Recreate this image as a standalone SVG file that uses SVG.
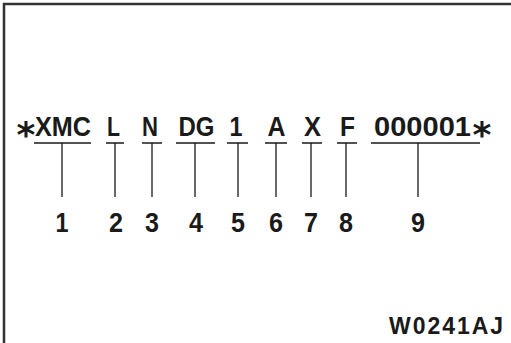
<svg xmlns="http://www.w3.org/2000/svg" width="511" height="343" viewBox="0 0 511 343">
<style>
.t{font-family:"Liberation Sans",Arial,sans-serif;font-weight:bold;font-size:27px;fill:#1a1a1a}
.m{text-anchor:middle}
.s{font-family:"DejaVu Sans",sans-serif;font-weight:bold;font-size:36px;fill:#1a1a1a;text-anchor:middle}
.n{font-family:"Liberation Sans",Arial,sans-serif;font-weight:bold;font-size:28px;fill:#1a1a1a;text-anchor:middle}
.c{font-family:"Liberation Sans",Arial,sans-serif;font-weight:bold;font-size:23px;fill:#1a1a1a}
.u{stroke:#1a1a1a;stroke-width:1.5;fill:none}
.v{stroke:#1a1a1a;stroke-width:1.3;fill:none}
</style>
<rect width="511" height="343" fill="#fff"/>
<path d="M4,343 V4 H511" fill="none" stroke="#333" stroke-width="2.5"/>
<g id="code">
<text class="s" x="26" y="147">*</text>
<text class="t" x="35" y="136" textLength="56" lengthAdjust="spacingAndGlyphs">XMC</text>
<text class="t m" x="113.5" y="136" textLength="13" lengthAdjust="spacingAndGlyphs">L</text>
<text class="t m" x="150" y="136" textLength="16" lengthAdjust="spacingAndGlyphs">N</text>
<text class="t m" x="196.5" y="136" textLength="36" lengthAdjust="spacingAndGlyphs">DG</text>
<text class="t m" x="236" y="136" textLength="13" lengthAdjust="spacingAndGlyphs">1</text>
<text class="t m" x="276.5" y="136" textLength="18" lengthAdjust="spacingAndGlyphs">A</text>
<text class="t m" x="312.5" y="136" textLength="17" lengthAdjust="spacingAndGlyphs">X</text>
<text class="t m" x="347.5" y="136" textLength="15" lengthAdjust="spacingAndGlyphs">F</text>
<text class="t" x="374" y="136" textLength="97" lengthAdjust="spacingAndGlyphs">000001</text>
<text class="s" x="482" y="147">*</text>
</g>
<g id="connectors">
<path class="u" d="M34,143H91 M106,143H124 M142,143H162 M176,143H215 M227,143H248 M265,143H287 M302,143H322 M337,143H357 M371,143H480"/>
<path class="v" d="M62,143V197 M115,143V197 M152,143V197 M195,143V197 M238,143V197 M276,143V197 M311,143V197 M346,143V197 M418,143V197"/>
</g>
<g id="numbers">
<text class="n" x="62" y="232" textLength="13" lengthAdjust="spacingAndGlyphs">1</text>
<text class="n" x="116" y="232" textLength="14" lengthAdjust="spacingAndGlyphs">2</text>
<text class="n" x="152" y="232" textLength="14" lengthAdjust="spacingAndGlyphs">3</text>
<text class="n" x="196" y="232" textLength="14" lengthAdjust="spacingAndGlyphs">4</text>
<text class="n" x="238" y="232" textLength="14" lengthAdjust="spacingAndGlyphs">5</text>
<text class="n" x="276" y="232" textLength="14" lengthAdjust="spacingAndGlyphs">6</text>
<text class="n" x="311" y="232" textLength="14" lengthAdjust="spacingAndGlyphs">7</text>
<text class="n" x="346" y="232" textLength="14" lengthAdjust="spacingAndGlyphs">8</text>
<text class="n" x="418" y="232" textLength="14" lengthAdjust="spacingAndGlyphs">9</text>
</g>
<g id="caption">
<text class="c" x="389" y="334" textLength="114" lengthAdjust="spacing">W0241AJ</text>
</g>
</svg>
